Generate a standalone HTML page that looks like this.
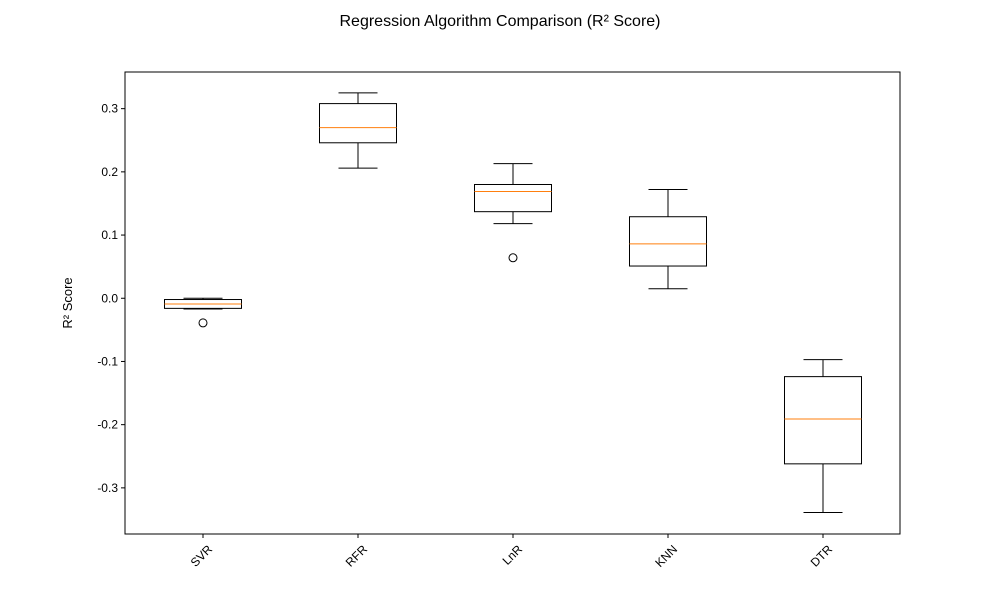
<!DOCTYPE html>
<html><head><meta charset="utf-8"><style>
body{margin:0;background:#fff;}
text{font-family:"Liberation Sans","DejaVu Sans",sans-serif;fill:#000;}
</style></head><body>
<svg id="chart" width="1000" height="600" xmlns="http://www.w3.org/2000/svg">
<rect width="1000" height="600" fill="#fff"/>
<text x="500" y="26" text-anchor="middle" font-size="16">Regression Algorithm Comparison (R² Score)</text>
<text transform="translate(72,303) rotate(-90)" text-anchor="middle" font-size="13">R² Score</text>
<g id="plot"></g>
<rect x="125" y="72" width="775" height="462" fill="none" stroke="#000" stroke-width="1"/>
</svg>
<script>
const categories=["SVR","RFR","LnR","KNN","DTR"];
const whiskerLow=[-0.017,0.206,0.118,0.015,-0.339];
const q1=[-0.016,0.246,0.137,0.051,-0.262];
const medians=[-0.009,0.270,0.169,0.086,-0.191];
const q3=[-0.002,0.308,0.180,0.129,-0.124];
const whiskerHigh=[0.000,0.325,0.213,0.172,-0.097];
const outliers=[[-0.039],[],[0.064],[],[]];
const yTicks=[-0.3,-0.2,-0.1,0.0,0.1,0.2,0.3];
const yMin=-0.373,yMax=0.358,plotTop=72,plotBottom=534,plotLeft=125,plotRight=900;
const y=v=>plotBottom-(v-yMin)/(yMax-yMin)*(plotBottom-plotTop);
const x=i=>plotLeft+0.5+(plotRight-plotLeft)*(i+0.5)/categories.length;
const g=document.getElementById('plot');
const NS="http://www.w3.org/2000/svg";
function el(t,a){const e=document.createElementNS(NS,t);for(const k in a)e.setAttribute(k,a[k]);g.appendChild(e);return e;}
yTicks.forEach(t=>{
 const l=el('line',{x1:plotLeft-4,x2:plotLeft,y1:y(t),y2:y(t),stroke:'#000'});
 
 
 const tx=el('text',{x:plotLeft-7,y:y(t)+4,'text-anchor':'end','font-size':12});
 tx.textContent=t.toFixed(1);
 
 
});
const bw=77,cw=39;
categories.forEach((c,i)=>{
 const cx=x(i);
 const t=el('line',{x1:cx,x2:cx,y1:plotBottom,y2:plotBottom+4,stroke:'#000'});
 
 
 const lab=el('text',{transform:`translate(${cx+10},${plotBottom+16}) rotate(-45)`,'text-anchor':'end','font-size':12});
 lab.textContent=c;
 
 
 const s={stroke:'#000','stroke-width':1,fill:'none'};
 const w1=el('line',{x1:cx,x2:cx,y1:y(whiskerHigh[i]),y2:y(q3[i]),...s});
 
 
 const w2=el('line',{x1:cx,x2:cx,y1:y(q1[i]),y2:y(whiskerLow[i]),...s});
 
 
 const c1=el('line',{x1:cx-cw/2,x2:cx+cw/2,y1:y(whiskerHigh[i]),y2:y(whiskerHigh[i]),...s});
 
 
 const c2=el('line',{x1:cx-cw/2,x2:cx+cw/2,y1:y(whiskerLow[i]),y2:y(whiskerLow[i]),...s});
 
 
 const b=el('rect',{x:cx-bw/2,y:y(q3[i]),width:bw,height:y(q1[i])-y(q3[i]),...s});
 
 
 const m=el('line',{x1:cx-bw/2,x2:cx+bw/2,y1:y(medians[i]),y2:y(medians[i]),stroke:'#ff7f0e','stroke-width':1});
 
 
 outliers[i].forEach(o=>{
  const p=el('circle',{cx:cx,cy:y(o),r:4,...s});
  
  
 });
});
</script>
</body></html>
